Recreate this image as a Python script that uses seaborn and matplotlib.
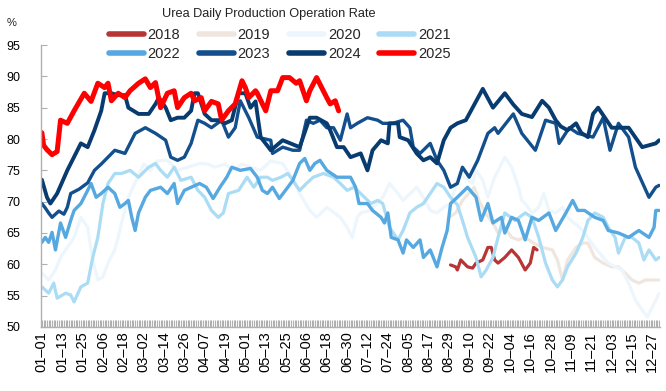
import numpy as np
import pandas as pd
import seaborn as sns
import matplotlib.pyplot as plt

sns.set_style("white")
plt.rcParams['font.family'] = ['Liberation Sans', 'DejaVu Sans']

# day of year (0 = 01-01) and operation rate (%)
d2018 = [241, 244, 245, 247, 251, 254, 256, 260, 263, 265, 267, 269, 273, 277, 281, 285, 288, 290, 292]
v2018 = [59.9, 59.6, 59.1, 60.7, 59.6, 59.4, 60.2, 60.7, 62.7, 62.7, 60.7, 60.2, 61.1, 62.3, 61.1, 59.1, 60.2,
         62.7, 62.3]

d2019 = [240, 244, 248, 255, 258, 262, 266, 269, 273, 277, 281, 285, 290, 295, 301, 304, 307, 310, 315, 319,
         322, 326, 331, 336, 340, 344, 348, 352, 356, 362, 364]
v2019 = [67.5, 68.2, 70.2, 72.3, 70.0, 68.0, 66.6, 65.0, 65.9, 64.3, 63.9, 64.3, 63.4, 62.7, 62.3, 60.7, 57.5,
         60.7, 62.7, 63.4, 63.4, 61.1, 60.2, 59.6, 59.6, 58.6, 57.5, 57.0, 57.5, 57.5, 57.5]

d2020 = [0, 4, 8, 11, 15, 19, 23, 27, 30, 33, 36, 39, 43, 45, 47, 49, 51, 55, 60, 64, 68, 74, 80, 86, 93, 98,
         102, 108, 113, 118, 123, 129, 135, 142, 147, 152, 158, 162, 168, 176, 180, 183, 186, 188, 194, 201, 205,
         210, 213, 221, 225, 229, 233, 237, 241, 246, 254, 256, 260, 263, 267, 273, 277, 281, 283, 285, 289, 293,
         296, 299, 303, 307, 310, 319, 322, 326, 331, 334, 342, 346, 350, 354, 357, 360, 362, 364]
v2020 = [58.6, 57.5, 59.1, 61.1, 62.7, 64.3, 67.5, 65.9, 60.7, 57.5, 58.0, 60.2, 62.3, 64.3, 66.6, 68.6, 70.7,
         73.0, 76.0, 75.0, 76.5, 76.6, 75.0, 75.5, 76.1, 76.0, 75.5, 76.0, 75.0, 76.0, 75.5, 75.0, 76.5, 76.1,
         74.0, 71.3, 68.6, 67.5, 69.1, 67.5, 65.9, 64.3, 67.5, 68.2, 68.6, 70.7, 72.9, 71.3, 70.2, 72.3, 70.7,
         68.6, 68.2, 69.1, 69.7, 74.5, 72.9, 75.0, 73.4, 70.7, 73.9, 77.1, 75.5, 72.3, 70.2, 69.7, 68.2, 69.1,
         71.3, 68.6, 68.2, 69.1, 67.5, 65.4, 64.3, 62.7, 61.1, 60.2, 59.1, 57.0, 54.3, 52.7, 51.6, 53.2, 54.3,
         55.4]

d2021 = [0, 4, 7, 9, 14, 17, 19, 23, 27, 30, 33, 36, 39, 43, 47, 52, 57, 63, 67, 70, 74, 78, 82, 88, 92, 96,
         100, 104, 107, 110, 116, 121, 125, 129, 133, 136, 141, 145, 148, 152, 156, 160, 166, 172, 176, 180, 184,
         188, 194, 198, 201, 205, 210, 213, 217, 221, 225, 229, 233, 237, 241, 245, 248, 251, 256, 259, 262, 266,
         269, 273, 279, 285, 289, 293, 297, 301, 304, 307, 310, 315, 319, 322, 326, 331, 334, 338, 340, 344, 348,
         352, 355, 358, 362, 364]
v2021 = [56.4, 55.4, 57.0, 54.6, 55.4, 55.1, 54.0, 56.4, 57.0, 61.1, 64.3, 69.7, 72.9, 74.5, 74.5, 75.0, 73.9,
         75.5, 76.1, 75.0, 73.9, 75.5, 73.4, 73.9, 71.8, 70.7, 68.6, 67.5, 68.2, 71.3, 71.8, 73.9, 72.3, 73.9,
         73.9, 73.4, 73.9, 74.5, 73.4, 71.8, 72.9, 73.9, 74.5, 73.9, 72.9, 71.8, 72.3, 71.3, 69.7, 70.2, 69.7,
         65.9, 63.9, 65.4, 68.2, 69.1, 69.7, 71.3, 72.9, 72.3, 70.7, 69.5, 67.0, 64.3, 61.1, 58.0, 59.1, 61.1,
         64.3, 68.2, 67.0, 68.2, 67.5, 64.3, 60.2, 57.5, 56.4, 57.5, 59.6, 61.8, 64.3, 67.0, 68.2, 67.5, 65.9,
         64.3, 61.8, 64.3, 64.3, 63.4, 60.7, 62.3, 60.7, 61.1]

d2022 = [0, 2, 4, 6, 8, 11, 14, 17, 19, 23, 27, 29, 32, 35, 39, 43, 46, 49, 51, 53, 55, 57, 61, 64, 70, 74, 78,
         80, 84, 88, 93, 97, 101, 105, 109, 112, 117, 123, 127, 130, 133, 136, 140, 145, 148, 152, 155, 158, 161,
         164, 168, 174, 178, 182, 185, 187, 192, 195, 200, 202, 204, 206, 210, 213, 215, 219, 223, 225, 229, 233,
         236, 239, 241, 245, 251, 256, 259, 263, 266, 271, 273, 277, 281, 285, 289, 293, 299, 303, 309, 313, 316,
         320, 326, 331, 334, 340, 346, 352, 358, 361, 362, 364]
v2022 = [63.5, 64.3, 63.5, 65.1, 62.3, 66.6, 64.3, 67.0, 68.6, 69.7, 71.8, 72.9, 70.7, 71.3, 72.3, 71.3, 69.1,
         69.7, 70.2, 67.5, 65.4, 68.2, 70.7, 71.8, 72.3, 71.3, 72.9, 69.7, 71.8, 72.3, 72.9, 72.3, 70.5, 72.3,
         73.9, 75.5, 75.0, 75.3, 73.9, 71.8, 71.3, 72.3, 70.5, 72.3, 73.4, 76.1, 76.9, 75.0, 76.1, 76.6, 75.0,
         73.9, 73.9, 73.9, 72.3, 69.7, 69.7, 68.6, 67.5, 66.6, 68.2, 64.3, 63.9, 61.8, 63.9, 62.7, 63.9, 61.1,
         62.3, 59.6, 62.7, 65.4, 69.7, 70.7, 72.3, 70.7, 67.0, 69.7, 66.6, 67.5, 65.0, 67.5, 67.0, 63.9, 67.5,
         67.0, 68.2, 65.4, 68.2, 70.2, 68.6, 68.6, 67.5, 67.0, 65.4, 65.0, 64.3, 65.4, 64.3, 65.9, 68.6, 68.6]

d2023 = [0, 2, 4, 6, 10, 13, 15, 17, 22, 27, 31, 35, 39, 43, 49, 55, 61, 67, 73, 76, 80, 84, 88, 92, 96, 100,
         106, 110, 114, 117, 122, 127, 135, 136, 142, 148, 152, 156, 160, 164, 168, 172, 176, 180, 182, 186, 192,
         198, 201, 207, 213, 217, 219, 223, 229, 233, 237, 241, 245, 248, 252, 257, 263, 267, 269, 278, 283, 291,
         297, 303, 305, 311, 316, 325, 331, 335, 340, 346, 350, 358, 362, 364]
v2023 = [69.7, 69.0, 68.2, 67.5, 68.5, 68.0, 69.1, 71.3, 72.0, 73.0, 75.0, 76.0, 77.1, 78.2, 77.7, 80.9, 81.8,
         80.9, 79.8, 77.1, 76.6, 77.1, 79.3, 83.0, 82.5, 81.8, 83.0, 80.3, 81.8, 86.1, 83.4, 80.3, 79.8, 77.7,
         78.7, 78.2, 78.2, 83.0, 82.5, 83.0, 81.8, 81.8, 79.8, 84.0, 81.8, 82.5, 83.4, 83.0, 82.5, 82.5, 83.0,
         81.8, 78.7, 77.7, 79.3, 76.6, 75.0, 72.3, 72.9, 75.5, 73.9, 76.6, 80.9, 81.8, 80.9, 84.0, 80.9, 78.2,
         83.0, 82.5, 79.3, 81.8, 80.9, 80.3, 83.4, 78.2, 82.5, 80.3, 75.5, 70.7, 72.3, 72.6]

d2024 = [0, 3, 5, 9, 15, 23, 27, 31, 35, 37, 41, 45, 49, 51, 57, 63, 67, 69, 73, 76, 80, 84, 88, 90, 92, 96,
         100, 104, 108, 112, 116, 120, 123, 126, 129, 135, 142, 152, 158, 162, 168, 170, 174, 178, 182, 188, 192,
         195, 200, 204, 205, 210, 211, 216, 221, 225, 229, 233, 237, 241, 245, 250, 255, 260, 266, 273, 278, 283,
         289, 295, 299, 303, 306, 310, 315, 318, 322, 325, 328, 336, 346, 354, 362, 364]
v2024 = [73.5, 70.7, 69.7, 71.3, 75.0, 79.3, 78.7, 81.4, 84.5, 87.3, 87.3, 87.0, 87.0, 85.0, 84.0, 84.0, 85.6,
         86.6, 85.0, 83.0, 83.4, 83.4, 84.5, 87.3, 87.3, 84.0, 83.0, 83.0, 82.5, 83.0, 87.3, 87.3, 85.0, 86.0,
         80.3, 78.2, 79.8, 78.7, 83.4, 83.4, 82.5, 81.4, 78.7, 78.7, 77.1, 77.7, 75.0, 78.2, 79.8, 79.3, 82.5,
         82.5, 80.3, 79.8, 77.7, 76.6, 77.1, 76.1, 79.8, 81.8, 82.5, 83.0, 85.5, 88.0, 85.0, 87.3, 85.5, 84.0,
         83.5, 86.1, 85.0, 83.0, 82.0, 81.4, 82.5, 81.0, 80.3, 84.0, 85.0, 81.8, 81.8, 78.7, 79.3, 79.8]

d2025 = [0, 1, 3, 6, 9, 11, 15, 19, 25, 29, 33, 37, 39, 41, 45, 49, 52, 57, 61, 64, 67, 70, 74, 78, 80, 84, 88,
         90, 94, 96, 100, 104, 106, 110, 114, 118, 120, 122, 126, 127, 132, 135, 139, 142, 146, 150, 152, 156,
         158, 162, 165, 168, 170, 173, 175]
v2025 = [81.0, 79.0, 78.3, 77.5, 78.0, 83.0, 82.5, 84.5, 87.3, 86.0, 88.9, 88.2, 88.9, 86.1, 87.3, 86.6, 87.7,
         88.9, 89.6, 88.2, 89.0, 85.0, 87.3, 87.7, 85.0, 86.6, 87.3, 86.1, 86.6, 84.5, 86.0, 85.6, 83.0, 84.5,
         85.6, 89.3, 88.2, 86.6, 87.7, 87.3, 84.5, 87.7, 87.7, 89.8, 89.8, 88.9, 89.3, 86.1, 87.7, 89.8, 88.2,
         86.6, 85.6, 86.1, 84.5]

years = ["2018", "2019", "2020", "2021", "2022", "2023", "2024", "2025"]
days = [d2018, d2019, d2020, d2021, d2022, d2023, d2024, d2025]
vals = [v2018, v2019, v2020, v2021, v2022, v2023, v2024, v2025]

tick_days = list(range(0, 365, 12))
tick_labels = ["01–01", "01–13", "01–25", "02–06", "02–18", "03–02", "03–14", "03–26", "04–07", "04–19",
               "05–01", "05–13", "05–25", "06–06", "06–18", "06–30", "07–12", "07–24", "08–05", "08–17",
               "08–29", "09–10", "09–22", "10–04", "10–16", "10–28", "11–09", "11–21", "12–03", "12–15",
               "12–27"]

colors = {"2018": "#b83535", "2019": "#efe7df", "2020": "#edf6fc", "2021": "#aadcf5",
          "2022": "#56a8e0", "2023": "#134f8c", "2024": "#083c70", "2025": "#ff0000"}
widths = {"2018": 2.3, "2019": 2.3, "2020": 2.3, "2021": 2.3,
          "2022": 2.4, "2023": 2.4, "2024": 2.8, "2025": 3.6}

df = pd.concat([pd.DataFrame({"day": d, "rate": v, "year": y}) for y, d, v in zip(years, days, vals)])

fig = plt.figure(figsize=(6.66, 3.91), dpi=100)
ax = fig.add_axes([0.0616, 0.1637, 0.9294, 0.7212])

for y in years:
    sns.lineplot(data=df[df["year"] == y], x="day", y="rate", color=colors[y], linewidth=widths[y],
                 ax=ax, label=y, sort=True, estimator=None)

ax.set_xlim(-0.5, 364.5)
ax.set_ylim(50, 95)
ax.set_yticks(range(50, 96, 5))
ax.set_xticks(tick_days)
ax.set_xticklabels(tick_labels, rotation=90)
ax.set_xticks(range(0, 365), minor=True)
ax.set_xlabel("")
ax.set_ylabel("")

for s in ["top", "right"]:
    ax.spines[s].set_visible(False)
for s in ["left", "bottom"]:
    ax.spines[s].set_color("#b0b0b0")
    ax.spines[s].set_linewidth(1.0)

ax.tick_params(axis="x", which="both", bottom=True, direction="in", length=5, width=0.8, color="#b0b0b0",
               labelsize=10.5, pad=3, labelcolor="black")
ax.tick_params(axis="y", left=True, direction="in", length=4, width=0.8, color="#b0b0b0",
               labelsize=9, pad=15, labelcolor="black")

# legend fills column by column, so reorder to get 2018-2021 on the first row
handles, labels = ax.get_legend_handles_labels()
order = [0, 4, 1, 5, 2, 6, 3, 7]
leg = ax.legend([handles[i] for i in order], [labels[i] for i in order], ncol=4, loc="center",
                bbox_to_anchor=(0.42, 0.887), bbox_transform=fig.transFigure,
                frameon=False, fontsize=10.5, handlelength=2.4, handletextpad=0.25, columnspacing=1.3,
                labelspacing=0.35, borderpad=0)
for h in leg.get_lines():
    h.set_linewidth(4)
    h.set_solid_capstyle("round")

fig.text(0.403, 0.965, "Urea Daily Production Operation Rate", ha="center", va="center", fontsize=9.2,
         color="#222222")
fig.text(0.018, 0.94, "%", ha="center", va="center", fontsize=8, color="#222222")

fig.savefig("out.png", dpi=100)
